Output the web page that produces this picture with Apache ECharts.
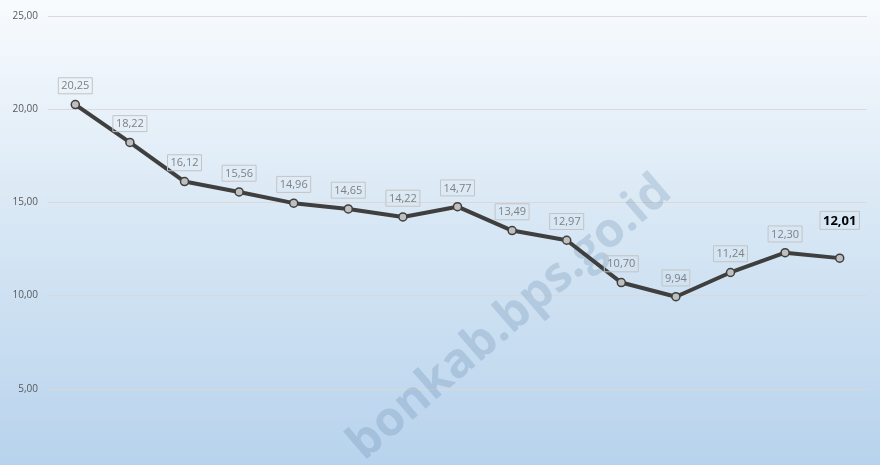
<!DOCTYPE html>
<html>
<head>
<meta charset="utf-8">
<script src="https://cdn.jsdelivr.net/npm/echarts@6/dist/echarts.min.js"></script>
<style>
html, body { margin: 0; padding: 0; overflow: hidden; }
/* the x axis sits below the visible window, so the chart is taller than the view */
#chart { width: 880px; height: 500px; }
</style>
</head>
<body>
<div id="chart"></div>
<script>
// data
var categories = ['2008', '2009', '2010', '2011', '2012', '2013', '2014', '2015',
	'2016', '2017', '2018', '2019', '2020', '2021', '2022'];
var values = [20.25, 18.22, 16.12, 15.56, 14.96, 14.65, 14.22, 14.77,
	13.49, 12.97, 10.70, 9.94, 11.24, 12.30, 12.01];
var yTicks = [0, 5, 10, 15, 20, 25];

var fmt = function(v) {
	return v.toFixed(2).replace('.', ',');
};

var seriesData = values.map(function(v, i) {
	var o = { value: v };
	if(i === values.length - 1) { //last point is highlighted
		o.label = {
			fontWeight: 'bold',
			fontSize: 13,
			color: '#000',
			distance: 24
		};
	}
	return o;
});

var chart = echarts.init(document.getElementById('chart'));
chart.setOption({
	animation: false,
	graphic: [{
		type: 'rect',
		z: -10,
		silent: true,
		shape: { x: 0, y: 0, width: 880, height: 500 },
		style: {
			fill: new echarts.graphic.LinearGradient(0, 0, 0, 1, [
				{ offset: 0, color: '#f8fbfe' },
				{ offset: 0.47, color: '#d6e6f4' },
				{ offset: 1, color: '#b3d0ec' }
			])
		}
	}, {
		type: 'text',
		z: 1,
		silent: true,
		x: 510,
		y: 318,
		rotation: 0.71,
		style: {
			text: 'bonkab.bps.go.id',
			font: 'bold 48px "Open Sans"',
			fill: 'rgba(70,110,150,0.2)',
			align: 'center',
			verticalAlign: 'middle'
		}
	}],
	grid: {
		left: 48,
		right: 13,
		top: 16,
		height: 466
	},
	xAxis: {
		type: 'category',
		data: categories,
		boundaryGap: true,
		axisLine: { show: false },
		axisTick: { show: false },
		axisLabel: { show: false }
	},
	yAxis: {
		type: 'value',
		min: yTicks[0],
		max: yTicks[yTicks.length - 1],
		interval: 5,
		axisLine: { show: false },
		axisTick: { show: false },
		axisLabel: {
			formatter: function(v) { return v === 0 ? '' : fmt(v); },
			color: '#595959',
			fontSize: 10,
			fontFamily: 'Open Sans',
			margin: 10
		},
		splitLine: { lineStyle: { color: '#d9d9d9', width: 1 } }
	},
	series: [{
		type: 'line',
		data: seriesData,
		z: 3,
		symbol: 'circle',
		symbolSize: 8,
		lineStyle: { color: '#3f3f3f', width: 4 },
		itemStyle: { color: '#bfbfbf', borderColor: '#3f3f3f', borderWidth: 1.5 },
		label: {
			show: true,
			position: 'top',
			distance: 6,
			formatter: function(p) { return fmt(p.value); },
			fontFamily: 'Open Sans',
			fontSize: 11,
			color: '#7f7f7f',
			borderColor: '#c4c4c4',
			borderWidth: 1,
			padding: [3, 3, 2, 3]
		}
	}]
});
</script>
</body>
</html>
